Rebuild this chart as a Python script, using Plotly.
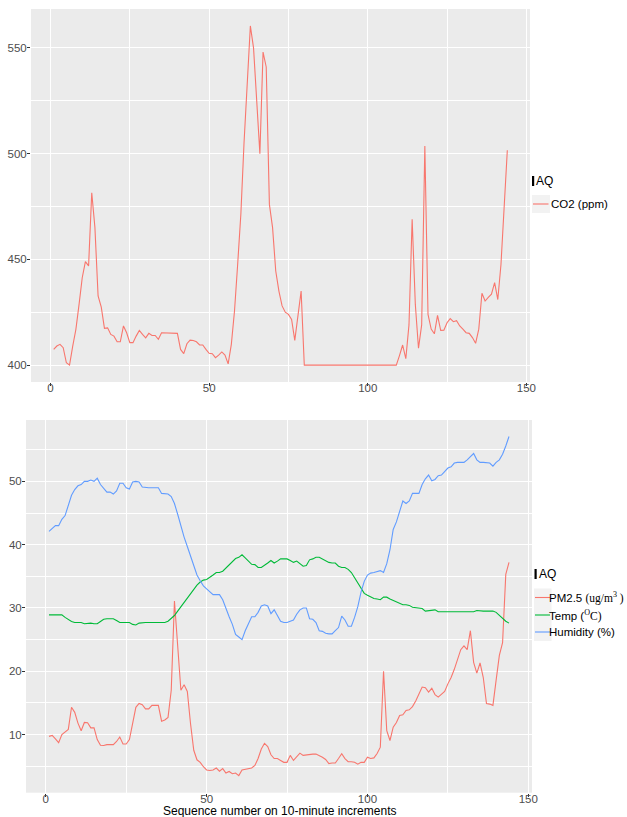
import plotly.graph_objects as go

# ---------------- data ----------------
seq = list(range(1, 145))

co2 = [
    407.4, 409.0, 409.8, 408.2, 401.1, 400.0, 409.0, 416.9, 428.7, 441.3,
    448.9, 446.9, 481.5, 465.0, 432.7, 427.4, 417.4, 417.6, 414.5, 413.7,
    411.0, 411.0, 418.5, 415.3, 410.6, 410.6, 413.7, 416.4, 414.5, 412.9,
    415.0, 414.0, 414.0, 412.2, 415.3, 415.3, 415.3, 415.3, 415.0, 415.0,
    407.4, 405.4, 410.1, 411.8, 411.6, 411.0, 409.5, 409.5, 407.4, 405.6,
    405.4, 403.5, 404.7, 406.2, 404.7, 400.6, 409.8, 425.6, 447.7, 471.3,
    505.0, 533.0, 560.4, 550.0, 525.0, 500.0, 548.0, 541.0, 476.0, 465.0,
    444.5, 435.0, 428.0, 425.0, 424.0, 421.6, 411.7, 424.0, 435.0, 400.0,
    400.0, 400.0, 400.0, 400.0, 400.0, 400.0, 400.0, 400.0, 400.0, 400.0,
    400.0, 400.0, 400.0, 400.0, 400.0, 400.0, 400.0, 400.0, 400.0, 400.0,
    400.0, 400.0, 400.0, 400.0, 400.0, 400.0, 400.0, 400.0, 400.0, 404.5,
    409.5, 403.0, 419.0, 469.0, 428.7, 408.0, 419.0, 503.6, 424.0, 417.0,
    414.8, 423.5, 416.4, 416.5, 420.0, 422.0, 420.5, 421.0, 418.5, 417.0,
    415.3, 415.0, 413.0, 410.3, 417.0, 434.0, 430.3, 432.0, 433.5, 439.0,
    431.0, 447.6, 477.6, 501.6,
]

pm25 = [
    9.7, 9.85, 9.3, 8.7, 10.0, 10.4, 10.8, 14.3, 13.5, 11.8,
    10.6, 11.9, 11.85, 11.05, 11.05, 9.2, 8.3, 8.25, 8.4, 8.4,
    8.4, 8.9, 9.6, 8.5, 8.5, 9.2, 12.0, 14.3, 14.9, 14.7,
    14.05, 14.05, 14.6, 14.6, 14.6, 12.1, 12.3, 12.7, 17.0, 31.1,
    23.8, 17.0, 17.85, 16.8, 11.7, 7.5, 6.0, 5.6, 4.9, 4.4,
    4.3, 4.4, 4.7, 4.2, 4.6, 3.9, 4.15, 3.8, 3.9, 3.5,
    4.4, 4.5, 4.6, 4.7, 5.1, 6.2, 7.7, 8.6, 8.1, 6.8,
    6.2, 6.2, 5.9, 5.6, 5.6, 6.7, 5.9, 6.5, 7.05, 6.7,
    6.8, 6.85, 6.9, 6.9, 6.7, 6.4, 6.05, 5.4, 5.5, 5.5,
    6.2, 6.95, 6.2, 5.7, 5.7, 5.6, 5.3, 5.6, 5.6, 6.4,
    6.2, 6.3, 7.0, 8.0, 20.0, 10.6, 9.05, 11.15, 11.9, 13.0,
    13.1, 13.8, 13.9, 14.4, 15.3, 16.4, 17.5, 17.4, 16.7, 17.3,
    16.3, 15.9, 16.4, 16.8, 18.0, 19.0, 20.3, 21.8, 23.4, 24.0,
    23.4, 26.4, 21.4, 19.7, 21.3, 19.0, 14.9, 14.8, 14.6, 18.6,
    22.5, 24.5, 35.3, 37.2,
]

temp = [
    28.9, 28.9, 28.9, 28.9, 28.9, 28.5, 28.2, 27.85, 27.7, 27.7,
    27.7, 27.5, 27.6, 27.6, 27.5, 27.5, 27.85, 28.2, 28.3, 28.3,
    28.3, 28.0, 27.7, 27.7, 27.7, 27.7, 27.4, 27.3, 27.6, 27.7,
    27.7, 27.7, 27.7, 27.7, 27.7, 27.7, 27.7, 27.9, 28.3, 28.8,
    29.5, 30.2, 31.0, 31.7, 32.3, 32.9, 33.6, 34.1, 34.4, 34.5,
    34.8, 35.2, 35.6, 35.6, 35.8, 36.3, 36.8, 37.4, 37.8, 38.0,
    38.4, 37.9, 37.4, 36.9, 36.85, 36.4, 36.4, 36.7, 37.1, 37.5,
    37.1, 37.4, 37.75, 37.75, 37.75, 37.5, 37.2, 37.4, 37.0, 36.6,
    36.7, 37.6, 37.75, 38.0, 38.0, 37.75, 37.4, 37.2, 37.1, 37.1,
    36.6, 36.4, 36.4, 36.1, 35.6, 34.8, 33.8, 33.0, 32.3, 32.0,
    31.7, 31.5, 31.4, 31.3, 31.7, 31.7, 31.4, 31.2, 31.0, 30.7,
    30.5, 30.5, 30.4, 30.1, 30.05, 30.05, 29.9, 29.5, 29.6, 29.65,
    29.7, 29.4, 29.4, 29.4, 29.4, 29.4, 29.4, 29.4, 29.4, 29.4,
    29.4, 29.4, 29.4, 29.6, 29.5, 29.5, 29.5, 29.5, 29.5, 29.3,
    28.8, 28.3, 27.9, 27.6,
]

humidity = [
    42.1, 42.6, 43.0, 43.0, 44.0, 44.6, 46.4, 47.8, 48.7, 49.3,
    49.5, 50.0, 50.0, 50.2, 50.0, 50.5, 49.5, 48.8, 48.3, 48.3,
    48.0, 48.5, 49.7, 49.7, 49.0, 48.8, 49.9, 50.0, 49.9, 49.1,
    49.0, 49.0, 49.0, 49.0, 49.0, 48.1, 48.0, 48.0, 47.6, 46.5,
    44.8, 42.9, 41.2, 39.7, 38.2, 36.5, 35.2, 34.3, 33.5, 33.0,
    32.6, 32.1, 32.1, 32.1, 31.3, 29.8, 28.6, 27.4, 25.8, 25.4,
    25.0, 26.4, 27.6, 28.6, 28.6, 29.3, 30.3, 30.5, 30.3, 29.1,
    29.7, 28.8, 27.9, 27.7, 27.7, 27.9, 28.1, 29.0, 29.7, 30.0,
    30.0, 28.3, 28.2, 27.7, 26.4, 26.3, 26.0, 25.9, 25.9, 26.4,
    26.9, 28.7, 28.1, 27.1, 27.1, 28.5, 30.2, 32.5, 34.2, 35.2,
    35.5, 35.6, 35.7, 35.9, 35.6, 37.0, 39.2, 42.4, 43.6, 45.4,
    46.9, 46.5, 46.9, 48.1, 48.1, 48.1, 49.5, 50.4, 51.0, 50.1,
    50.3, 50.9, 51.0, 51.5, 52.1, 52.3, 52.9, 53.0, 53.0, 53.0,
    53.4, 53.9, 54.4, 53.4, 53.0, 53.0, 53.0, 52.9, 52.4, 53.0,
    53.4, 54.3, 55.6, 57.1,
]

x_ticks = [0, 50, 100, 150]
x_minor = [25, 75, 125]
y1_ticks = [400, 450, 500, 550]
y1_minor = [425, 475, 525]
y2_ticks = [10, 20, 30, 40, 50]
y2_minor = [5, 15, 25, 35, 45, 55]

top_names = ["CO2 (ppm)"]
bottom_names = [
    "PM2.5 <span style='font-family:Liberation Serif'>(ug/m<sup>3</sup> )</span>",
    "Temp (<span style='font-family:Liberation Serif'><sup>O</sup>C)</span>",
    "Humidity (%)",
]
legend_title = "AQ"
x_title = "Sequence number on 10-minute increments"

RED, GREEN, BLUE = "#F8766D", "#00BA38", "#619CFF"

W, H = 627, 817


def fx(p):
    return p / W


def fy(p):
    return 1 - p / H


FONT = "Liberation Sans"

fig = go.Figure()
fig.add_trace(go.Scatter(x=seq, y=co2, mode="lines", line=dict(color=RED, width=1.1),
                         name="CO2 (ppm)", showlegend=False, xaxis="x", yaxis="y"))
fig.add_trace(go.Scatter(x=seq, y=pm25, mode="lines", line=dict(color=RED, width=1.1),
                         name="PM2.5", showlegend=False, xaxis="x2", yaxis="y2"))
fig.add_trace(go.Scatter(x=seq, y=temp, mode="lines", line=dict(color=GREEN, width=1.1),
                         name="Temp", showlegend=False, xaxis="x2", yaxis="y2"))
fig.add_trace(go.Scatter(x=seq, y=humidity, mode="lines", line=dict(color=BLUE, width=1.1),
                         name="Humidity", showlegend=False, xaxis="x2", yaxis="y2"))

common = dict(
    showgrid=True, gridcolor="white", gridwidth=1.1,
    zeroline=False, showline=False,
    ticks="outside", ticklen=3, tickwidth=1, tickcolor="#333333",
    tickfont=dict(family=FONT, size=11.5, color="#4D4D4D"),
    automargin=False,
)
xcommon = dict(common, ticklabelstandoff=-8)
ycommon = dict(common, ticklabelstandoff=-2)


def minor(vals):
    return dict(tickmode="array", tickvals=vals, showgrid=True,
                gridcolor="white", gridwidth=0.5, ticks="")


fig.update_layout(
    width=W, height=H, autosize=False,
    margin=dict(l=0, r=0, t=0, b=0),
    paper_bgcolor="white", plot_bgcolor="#EBEBEB",
    font=dict(family=FONT, size=12, color="black"),
    showlegend=False,
    xaxis=dict(xcommon, domain=[fx(31), fx(530)], anchor="y", range=[-6.15, 151.15],
               tickmode="array", tickvals=x_ticks, minor=minor(x_minor)),
    yaxis=dict(ycommon, domain=[fy(382), fy(9)], anchor="x", range=[392.0, 568.4],
               tickmode="array", tickvals=y1_ticks, minor=minor(y1_minor)),
    xaxis2=dict(xcommon, domain=[fx(26), fx(532)], anchor="y2", range=[-6.15, 151.15],
                tickmode="array", tickvals=x_ticks, minor=minor(x_minor)),
    yaxis2=dict(ycommon, domain=[fy(792.7), fy(420)], anchor="x2", range=[0.8, 59.7],
                tickmode="array", tickvals=y2_ticks, minor=minor(y2_minor)),
)

shapes = []
annotations = []

# x-axis title of the lower panel
annotations.append(dict(xref="paper", yref="paper", x=fx(279), y=fy(810.5),
                        xanchor="center", yanchor="middle", showarrow=False,
                        text=x_title, font=dict(family=FONT, size=12, color="black")))


def legend(title_y, bar_x, key_x0, key_x1, item_ys, colors, names, text_x):
    shapes.append(dict(type="rect", xref="paper", yref="paper",
                       x0=fx(bar_x), x1=fx(bar_x + 2.2), y0=fy(title_y + 5), y1=fy(title_y - 5),
                       fillcolor="black", line=dict(width=0)))
    annotations.append(dict(xref="paper", yref="paper", x=fx(bar_x + 2.0), y=fy(title_y),
                            xanchor="left", yanchor="middle", showarrow=False,
                            text=legend_title, font=dict(family=FONT, size=12, color="black")))
    shapes.append(dict(type="rect", xref="paper", yref="paper",
                       x0=fx(key_x0), x1=fx(key_x1),
                       y0=fy(item_ys[-1] + 9), y1=fy(item_ys[0] - 9),
                       fillcolor="#F2F2F2", line=dict(width=0), layer="below"))
    for yy, c, n in zip(item_ys, colors, names):
        shapes.append(dict(type="line", xref="paper", yref="paper",
                           x0=fx(key_x0 + 1), x1=fx(key_x1 - 1.5), y0=fy(yy), y1=fy(yy),
                           line=dict(color=c, width=1.1)))
        annotations.append(dict(xref="paper", yref="paper", x=fx(text_x), y=fy(yy),
                                xanchor="left", yanchor="middle", showarrow=False,
                                text=n, font=dict(family=FONT, size=11.5, color="black")))


legend(181, 532, 532, 550, [204], [RED], top_names, 548.5)
legend(574, 534.5, 534, 551.5, [597.5, 615, 632], [RED, GREEN, BLUE], bottom_names, 546.5)

fig.update_layout(shapes=shapes, annotations=annotations)

fig.write_html(
    "out.html",
    config={"displayModeBar": False},
    post_script="document.body.style.margin='0';document.body.style.padding='0';",
)
